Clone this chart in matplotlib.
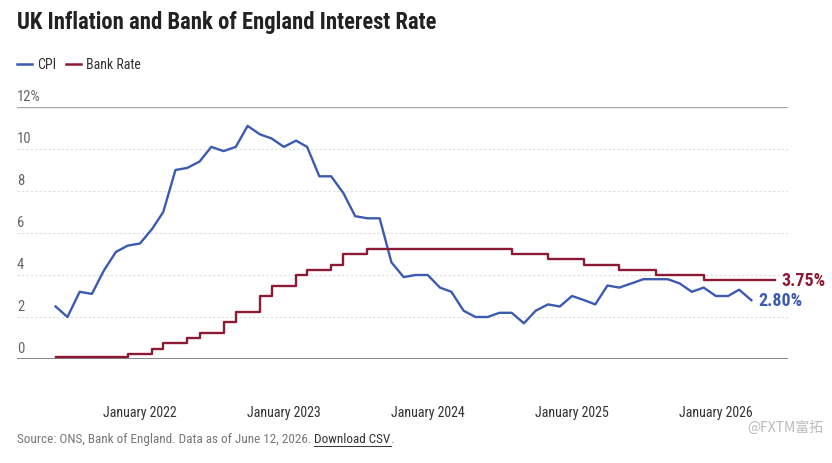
import matplotlib
matplotlib.use("Agg")
import matplotlib.pyplot as plt
import matplotlib.dates as mdates
from matplotlib import font_manager
import pandas as pd

# ---------------- data ----------------
cpi_start = "2021-06"
cpi_values = [
    2.5, 2.0, 3.2, 3.1, 4.2, 5.1, 5.4,
    5.5, 6.2, 7.0, 9.0, 9.1, 9.4, 10.1, 9.9, 10.1, 11.1, 10.7, 10.5,
    10.1, 10.4, 10.1, 8.7, 8.7, 7.9, 6.8, 6.7, 6.7, 4.6, 3.9, 4.0,
    4.0, 3.4, 3.2, 2.3, 2.0, 2.0, 2.2, 2.2, 1.7, 2.3, 2.6, 2.5,
    3.0, 2.8, 2.6, 3.5, 3.4, 3.6, 3.8, 3.8, 3.8, 3.6, 3.2, 3.4,
    3.0, 3.0, 3.3, 2.8,
]
rate_start = "2021-06"
rate_values = [
    0.1, 0.1, 0.1, 0.1, 0.1, 0.1, 0.25,
    0.25, 0.5, 0.75, 0.75, 1.0, 1.25, 1.25, 1.75, 2.25, 2.25, 3.0, 3.5,
    3.5, 4.0, 4.25, 4.25, 4.5, 5.0, 5.0, 5.25, 5.25, 5.25, 5.25, 5.25,
    5.25, 5.25, 5.25, 5.25, 5.25, 5.25, 5.25, 5.0, 5.0, 5.0, 4.75, 4.75,
    4.75, 4.5, 4.5, 4.5, 4.25, 4.25, 4.25, 4.0, 4.0, 4.0, 4.0, 3.75,
    3.75, 3.75, 3.75, 3.75, 3.75, 3.75,
]
y_ticks = [0, 2, 4, 6, 8, 10, 12]
y_tick_labels = ["0", "2", "4", "6", "8", "10", "12%"]
x_ticks = ["2022-01-01", "2023-01-01", "2024-01-01", "2025-01-01", "2026-01-01"]
x_tick_labels = ["January 2022", "January 2023", "January 2024", "January 2025", "January 2026"]
series_names = ["CPI", "Bank Rate"]
end_labels = ["2.80%", "3.75%"]
title = "UK Inflation and Bank of England Interest Rate"
source = "Source: ONS, Bank of England. Data as of June 12, 2026. "
source_link = "Download CSV"

cpi_dates = pd.period_range(cpi_start, periods=len(cpi_values), freq="M").to_timestamp()
rate_dates = pd.period_range(rate_start, periods=len(rate_values), freq="M").to_timestamp()

# ---------------- fonts ----------------
names = {f.name for f in font_manager.fontManager.ttflist}
FONT = "Roboto"
for cand in ["Roboto Condensed", "Liberation Sans Narrow", "Roboto"]:
    if cand in names:
        FONT = cand
        break
plt.rcParams["font.family"] = [FONT, "DejaVu Sans"]

BLUE = "#3c5bb0"
RED = "#8b1a35"
GREY_TXT = "#666666"

fig = plt.figure(figsize=(8.32, 4.64), dpi=100)
W, H = 832, 464
ax = fig.add_axes([17 / W, 104 / H, (788 - 17) / W, 252 / H])

ax.plot(cpi_dates, cpi_values, color=BLUE, lw=1.7, solid_joinstyle="round", zorder=3)
ax.step(rate_dates, rate_values, where="post", color=RED, lw=1.7, zorder=3)

ax.set_ylim(0, 12)
ax.set_xlim(mdates.datestr2num("2021-02-23"), mdates.datestr2num("2026-07-03"))

for s in ax.spines.values():
    s.set_visible(False)

for v in y_ticks:
    if v == 0:
        ax.axhline(v, color="#666666", lw=1.1, zorder=2)
    elif v == 12:
        ax.axhline(v, color="#aaaaaa", lw=1.0, zorder=1)
    else:
        ax.axhline(v, color="#dddddd", lw=0.8, ls=(0, (2, 2)), zorder=1)

ax.set_yticks([])
for v, lab in zip(y_ticks, y_tick_labels):
    ax.annotate(lab, xy=(0, v), xycoords=("axes fraction", "data"),
                xytext=(0, 3), textcoords="offset points",
                ha="left", va="bottom", fontsize=10.5, color=GREY_TXT)

ax.set_xticks([mdates.datestr2num(d) for d in x_ticks])
ax.set_xticklabels(x_tick_labels, fontsize=10, color="#333333")
ax.tick_params(axis="x", length=0, pad=33)

# end labels
ax.annotate(end_labels[0], xy=(cpi_dates[-1], cpi_values[-1]), xytext=(5, 0),
            textcoords="offset points", ha="left", va="center",
            fontsize=13, fontweight="bold", color=BLUE)
ax.annotate(end_labels[1], xy=(rate_dates[-1], rate_values[-1]), xytext=(4, 0),
            textcoords="offset points", ha="left", va="center",
            fontsize=13, fontweight="bold", color=RED)

# title
fig.text(17 / W, 1 - 23 / H, title, fontsize=16.3, fontweight="bold",
         color="#222222", ha="left", va="center")

# legend
ly = 1 - 65 / H
fig.add_artist(plt.Line2D([17 / W, 32 / W], [ly, ly], color=BLUE, lw=1.8))
fig.text(37 / W, ly, series_names[0], fontsize=10, color="#333333", ha="left", va="center")
fig.add_artist(plt.Line2D([66 / W, 81 / W], [ly, ly], color=RED, lw=1.8))
fig.text(86 / W, ly, series_names[1], fontsize=10, color="#333333", ha="left", va="center")

# source
t = fig.text(17 / W, 1 - 440 / H, source, fontsize=9.5, color="#777777", ha="left", va="center")
fig.canvas.draw()
bb = t.get_window_extent()
t2 = fig.text(bb.x1 / W, 1 - 440 / H, source_link, fontsize=9.5, color="#333333",
              ha="left", va="center")
bb2 = t2.get_window_extent()
fig.add_artist(plt.Line2D([bb2.x0 / W, bb2.x1 / W], [bb2.y0 / H - 0.002, bb2.y0 / H - 0.002],
                          color="#333333", lw=0.7))
fig.text((bb2.x1 - 1) / W, 1 - 440 / H, ".", fontsize=9.5, color="#777777", ha="left", va="center")

# watermark
fig.text(823 / W, 1 - 428 / H, "@FXTM富拓", fontsize=10, color="#bbbbbb", ha="right",
         va="center", family=["Noto Sans CJK SC", "DejaVu Sans"])

fig.savefig("out.png", dpi=100)
